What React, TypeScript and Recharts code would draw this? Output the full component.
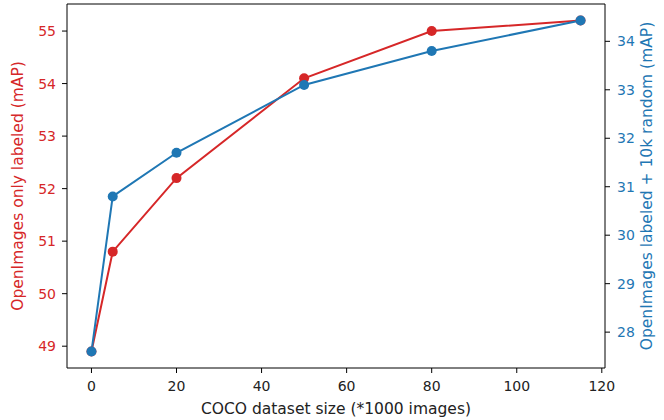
import React from "react";
import { LineChart, Line, XAxis, YAxis, ReferenceLine } from "recharts";

const sizes = [0, 5, 20, 50, 80, 115];
const labeledOnly = [48.9, 50.8, 52.2, 54.1, 55.0, 55.2];
const labeledPlusRandom = [27.6, 30.8, 31.7, 33.1, 33.8, 34.43];
const xTicks = [0, 20, 40, 60, 80, 100, 120];
const leftTicks = [49, 50, 51, 52, 53, 54, 55];
const rightTicks = [28, 29, 30, 31, 32, 33, 34];

const RED = "#d62728";
const BLUE = "#1f77b4";
const FONT = "DejaVu Sans, sans-serif";

const data = sizes.map((size, i) => ({
  size,
  only: labeledOnly[i],
  plus: labeledPlusRandom[i],
}));

function YTitle({ viewBox, shift, text, color }: any) {
  const cx = viewBox.x + shift;
  const cy = viewBox.y + viewBox.height / 2;
  return (
    <text
      x={cx}
      y={cy}
      transform={`rotate(-90 ${cx} ${cy})`}
      textAnchor="middle"
      dominantBaseline="central"
      fill={color}
      fontSize={15.5}
      fontFamily={FONT}
    >
      {text}
    </text>
  );
}

function XTitle({ viewBox }: any) {
  return (
    <text
      x={viewBox.x + viewBox.width / 2}
      y={viewBox.y + 41}
      textAnchor="middle"
      dominantBaseline="central"
      fill="#222"
      fontSize={15.5}
      fontFamily={FONT}
    >
      COCO dataset size (*1000 images)
    </text>
  );
}

export default function App() {
  return (
    <div style={{ width: 664, height: 420, background: "#fff" }}>
      <style>{"body{margin:0}"}</style>
      <LineChart width={664} height={420} data={data} margin={{ top: 4, right: 0, left: 0, bottom: 0 }}>
        <XAxis
          dataKey="size"
          type="number"
          domain={[-5.75, 120.75]}
          ticks={xTicks}
          allowDataOverflow
          height={52}
          stroke="#000"
          tickSize={5}
          tickMargin={8}
          tick={{ fill: "#222", fontSize: 14, fontFamily: FONT }}
          label={<XTitle />}
        />
        <YAxis
          yAxisId="left"
          orientation="left"
          type="number"
          domain={[48.585, 55.515]}
          ticks={leftTicks}
          allowDataOverflow
          width={67}
          stroke="#000"
          tickSize={5}
          tickMargin={6}
          tick={{ fill: RED, fontSize: 14, fontFamily: FONT }}
          label={<YTitle shift={18} text="OpenImages only labeled (mAP)" color={RED} />}
        />
        <YAxis
          yAxisId="right"
          orientation="right"
          type="number"
          domain={[27.26, 34.77]}
          ticks={rightTicks}
          allowDataOverflow
          width={59}
          stroke="#000"
          tickSize={5}
          tickMargin={7}
          tick={{ fill: BLUE, fontSize: 14, fontFamily: FONT }}
          label={<YTitle shift={42} text="OpenImages labeled + 10k random (mAP)" color={BLUE} />}
        />
        <ReferenceLine yAxisId="left" y={55.515} stroke="#000" strokeWidth={1} />
        <Line
          yAxisId="left"
          dataKey="only"
          stroke={RED}
          strokeWidth={2}
          dot={{ r: 5, fill: RED, stroke: RED, strokeWidth: 0 }}
          isAnimationActive={false}
        />
        <Line
          yAxisId="right"
          dataKey="plus"
          stroke={BLUE}
          strokeWidth={2}
          dot={{ r: 5, fill: BLUE, stroke: BLUE, strokeWidth: 0 }}
          isAnimationActive={false}
        />
      </LineChart>
    </div>
  );
}
